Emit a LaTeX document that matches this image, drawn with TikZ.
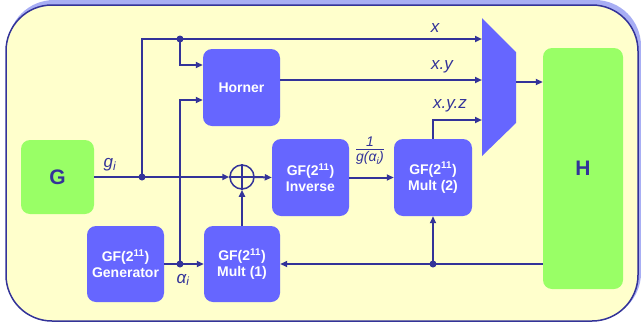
\documentclass[tikz,border=0pt]{standalone}
\usepackage{amsmath}
\usepackage{fontspec}
\setmainfont{Liberation Sans}
\usepackage{tikz}
\usetikzlibrary{calc,  positioning,  arrows.meta}

\definecolor{boxblue}{HTML}{6666FF}
\definecolor{wireblue}{HTML}{333399}
\definecolor{boxgreen}{HTML}{99FF66}
\definecolor{bgyellow}{HTML}{FFFFCC}
\definecolor{shadeblue}{HTML}{A8AEF4}

\begin{document}
\begin{tikzpicture}[x=1pt,  y=-1pt,
    blk/.style={rectangle,  rounded corners=9pt,  fill=boxblue,  text=white,  align=center,
      font=\fontsize{14}{16}\selectfont\bfseries,  inner sep=0pt,  minimum width=77pt,  minimum height=77pt},
    gblk/.style={rectangle,  rounded corners=9pt,  fill=boxgreen,  text=wireblue,
      font=\fontsize{21}{24}\selectfont\bfseries,  inner sep=0pt},
    wire/.style={draw=wireblue,  line width=2pt},
    arr/.style={wire,  -{Triangle[length=7pt,  width=6pt]}},
    lbl/.style={text=wireblue,  font=\fontsize{17}{19}\selectfont\itshape,  inner sep=0pt},
    dot/.style={fill=wireblue}]
          \useasboundingbox (0, 0) rectangle (641, 330);
          % frame
          \fill[shadeblue,  rounded corners=46pt] (8, 0) rectangle (641, 319);
          \filldraw[fill=bgyellow,  draw=wireblue,  line width=1.5pt,  rounded corners=46pt] (6, 5) rectangle (638, 321);

          % blocks
          \node[gblk,  minimum width=73pt,  minimum height=74pt] (G) at (57.5, 177) {G};
          \node[gblk,  minimum width=80pt,  minimum height=241pt] (H) at (583, 168.5) {H};
          \node[blk] (horner) at (241.5, 87.5) {Horner};
          \node[blk] (inverse) at (310.5, 177.5) {GF(2\textsuperscript{11})\\Inverse};
          \node[blk,  minimum width=78pt] (mult2) at (433, 177.5) {GF(2\textsuperscript{11})\\Mult (2)};
          \node[blk,  minimum height=76pt] (gen) at (125.5, 264) {GF(2\textsuperscript{11})\\Generator};
          \node[blk,  minimum width=76pt,  minimum height=76pt] (mult1) at (242, 264) {GF(2\textsuperscript{11})\\Mult (1)};
          \node[circle,  draw=wireblue,  line width=1.5pt,  minimum size=24pt,  inner sep=0pt] (xor) at (242, 177) {};
          \draw[wireblue,  line width=1.5pt] (xor.north) -- (xor.south) (xor.west) -- (xor.east);

          % mux
          \fill[boxblue] (482, 18) -- (516, 52) -- (516, 123) -- (482, 156) -- cycle;
          \coordinate (mux-x) at (482, 39);
          \coordinate (mux-xy) at (482, 80);
          \coordinate (mux-xyz) at (482, 120);
          \coordinate (mux-out) at (516, 82);

          % junctions
          \coordinate (j1) at (142, 177);
          \coordinate (j2) at (180, 39);
          \coordinate (j3) at (180, 264);
          \coordinate (j4) at (433, 264);

          % wires
          \draw[arr] (G.east) -- (xor.west);
          \draw[arr] (j1) |- (mux-x);
          \draw[arr] (j2) |- ([yshift=22.5pt]horner.west);
          \draw[arr] (gen.east) -- (mult1.west);
          \draw[arr] (j3) |- ([yshift=-12.5pt]horner.west);
          \draw[arr] ([yshift=7.5pt]horner.east) -- (mux-xy);
          \draw[arr] (xor.east) -- (inverse.west);
          \draw[arr] (mult1.north) -- (xor.south);
          \draw[arr] (inverse.east) -- (mult2.west);
          \draw[arr] (mult2.north) |- (mux-xyz);
          \draw[arr] (H.west |- j4) -- (mult1.east);
          \draw[arr] (j4) -- (mult2.south);
          \draw[arr] (mux-out) -- (H.west |- mux-out);

          \fill[dot] (j1) circle (3.5pt);
          \fill[dot] (j2) circle (3.5pt);
          \fill[dot] (j3) circle (3.5pt);
          \fill[dot] (j4) circle (3.5pt);

          % labels
          \node[lbl] (xl) at (435, 28) {x};
          \node[lbl] (xyl) at (442, 67) {x.y};
          \node[lbl] (xyzl) at (450, 106) {x.y.z};
          \node[lbl] (gi) at (110, 165) {g\textsubscript{i}};
          \node[lbl] (ai) at (183, 280) {α\textsubscript{i}};
          \node[text=wireblue,  inner sep=0pt,  font=\fontsize{14}{15}\selectfont\itshape] (frac) at (370, 151)
            {\setlength{\tabcolsep}{0pt}\begin{tabular}{c}1\\[-2pt]\hline\rule{0pt}{13pt}g(α\textsubscript{i})\end{tabular}};
      \end{tikzpicture}
\end{document}
